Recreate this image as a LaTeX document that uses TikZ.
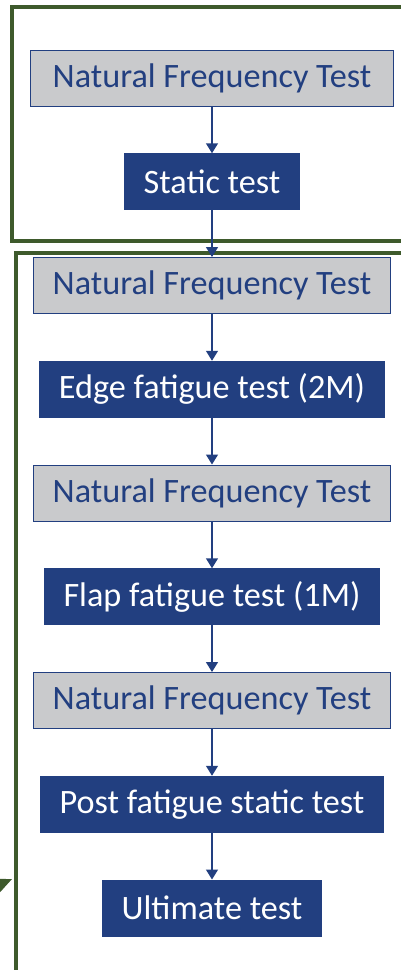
\documentclass[tikz,border=0pt]{standalone}
\usepackage{fontspec}
\setmainfont{Carlito}
\usepackage{xcolor}
\usetikzlibrary{positioning, arrows.meta}
\definecolor{testblue}{HTML}{223F80}
\definecolor{testgray}{HTML}{C9CACC}
\definecolor{framegreen}{HTML}{3E5A2C}

\begin{document}
\begin{tikzpicture}[x=1pt, y=-1pt, node distance=46.75pt, >={Triangle[width=12pt,length=10pt]},
  freq/.style={rectangle, draw=testblue, line width=1pt, fill=testgray, text=testblue, minimum height=56pt, inner xsep=19pt, inner ysep=0pt, font=\fontsize{34.2}{40}\selectfont},
  stage/.style={freq, fill=testblue, text=white},
  link/.style={->, draw=testblue, line width=1.5pt},
  frame/.style={draw=framegreen, line width=4pt}]
  \useasboundingbox (0,0) rectangle (401,970);
  % the two test campaigns
  \draw[frame] (420,7) -| (12,241) -- (420,241);
  \draw[frame] (420,253) -| (16,990);
  \coordinate (feed) at (-40,902);
  \coordinate (entry) at (12,879);
  \draw[frame, line width=1pt, fill=framegreen, -{Triangle[width=14pt,length=16pt]}] (feed) -- (entry);
  % test sequence
  \node[freq, minimum width=363pt] (F1) at (212,78) {Natural Frequency Test};
  \node[stage] (S1) [below=of F1] {Static test};
  \node[freq] (F2) [below=of S1] {Natural Frequency Test};
  \node[stage] (E1) [below=of F2] {Edge fatigue test (2M)};
  \node[freq] (F3) [below=of E1] {Natural Frequency Test};
  \node[stage] (P1) [below=of F3] {Flap fatigue test (1M)};
  \node[freq] (F4) [below=of P1] {Natural Frequency Test};
  \node[stage] (S2) [below=of F4] {Post fatigue static test};
  \node[stage] (U1) [below=of S2] {Ultimate test};
  \draw[link] (F1) -- (S1);
  \draw[link] (S1) -- (F2);
  \draw[link] (F2) -- (E1);
  \draw[link] (E1) -- (F3);
  \draw[link] (F3) -- (P1);
  \draw[link] (P1) -- (F4);
  \draw[link] (F4) -- (S2);
  \draw[link] (S2) -- (U1);
\end{tikzpicture}
\end{document}
